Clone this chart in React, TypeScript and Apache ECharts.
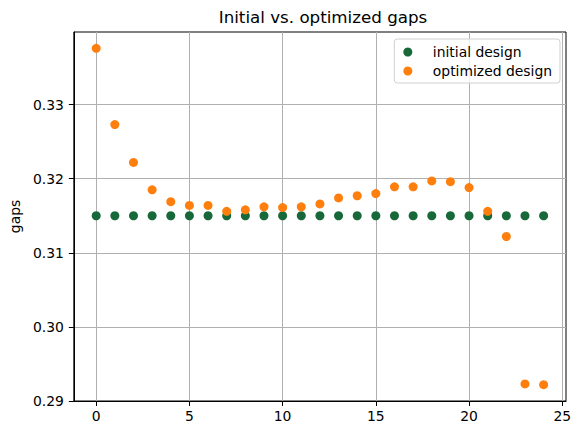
import React, { useEffect, useRef } from "react";
import * as echarts from "echarts";

// Segment index along the structure
const segmentIndex: number[] = Array.from({ length: 25 }, (_, i) => i);

// Gap widths before optimisation (uniform)
const initialGaps: number[] = [
  0.315, 0.315, 0.315, 0.315, 0.315, 0.315, 0.315, 0.315, 0.315, 0.315,
  0.315, 0.315, 0.315, 0.315, 0.315, 0.315, 0.315, 0.315, 0.315, 0.315,
  0.315, 0.315, 0.315, 0.315, 0.315,
];

// Gap widths after optimisation
const optimizedGaps: number[] = [
  0.3376, 0.3273, 0.3222, 0.3185, 0.3169, 0.3164, 0.3164, 0.3156, 0.3158, 0.3162,
  0.3161, 0.3162, 0.3166, 0.3174, 0.3177, 0.318, 0.3189, 0.3189, 0.3197, 0.3196,
  0.3188, 0.3156, 0.3122, 0.2923, 0.2922,
];

const xTicks: number[] = [0, 5, 10, 15, 20, 25];
const yTicks: number[] = [0.29, 0.3, 0.31, 0.32, 0.33];

const FONT = "DejaVu Sans";
const GREEN = "#18693a";
const ORANGE = "#ff7f0e";

export default function App() {
  const ref = useRef<HTMLDivElement>(null);

  useEffect(() => {
    if (!ref.current) return;
    const chart = echarts.init(ref.current, null, { renderer: "svg" });
    chart.setOption({
      animation: false,
      backgroundColor: "#ffffff",
      textStyle: { fontFamily: FONT },
      title: {
        text: "Initial vs. optimized gaps",
        left: 318,
        textAlign: "center",
        top: 3,
        textStyle: { fontFamily: FONT, fontSize: 16.7, fontWeight: "normal", color: "#000" },
      },
      grid: {
        left: 71,
        top: 32,
        right: 15,
        bottom: 34,
        show: true,
        borderColor: "#000",
        borderWidth: 1,
        backgroundColor: "transparent",
      },
      legend: {
        orient: "vertical",
        right: 21,
        top: 39,
        padding: [6, 8, 5, 9],
        itemGap: 5,
        itemWidth: 20,
        itemHeight: 9,
        borderColor: "#d0d0d0",
        borderWidth: 1,
        borderRadius: 3,
        backgroundColor: "rgba(255,255,255,0.8)",
        textStyle: { fontFamily: FONT, fontSize: 13.9, color: "#000", padding: [0, 0, 0, 10] },
        data: ["initial design", "optimized design"],
      },
      xAxis: {
        type: "value",
        min: -1.2,
        max: 25.2,
        axisLine: { show: true, onZero: false, lineStyle: { color: "#000", width: 1 } },
        axisTick: {
          show: true,
          length: 5,
          customValues: xTicks,
          lineStyle: { color: "#000", width: 1 },
        },
        axisLabel: {
          customValues: xTicks,
          margin: 8,
          fontFamily: FONT,
          fontSize: 13.9,
          color: "#000",
          formatter: (v: number) => String(v),
        },
        splitLine: { show: true, lineStyle: { color: "#b0b0b0", width: 1 } },
      },
      yAxis: {
        type: "value",
        min: 0.29,
        max: 0.3398,
        name: "gaps",
        nameLocation: "middle",
        nameGap: 47,
        nameTextStyle: { fontFamily: FONT, fontSize: 13.9, color: "#000" },
        axisLine: { show: true, onZero: false, lineStyle: { color: "#000", width: 1 } },
        axisTick: {
          show: true,
          length: 5,
          customValues: yTicks,
          lineStyle: { color: "#000", width: 1 },
        },
        axisLabel: {
          customValues: yTicks,
          margin: 10,
          fontFamily: FONT,
          fontSize: 13.9,
          color: "#000",
          formatter: (v: number) => v.toFixed(2),
        },
        splitLine: { show: true, lineStyle: { color: "#b0b0b0", width: 1 } },
      },
      series: [
        {
          name: "initial design",
          type: "scatter",
          symbol: "circle",
          symbolSize: 9,
          itemStyle: { color: GREEN, opacity: 1 },
          data: segmentIndex.map((x, i) => [x, initialGaps[i]]),
        },
        {
          name: "optimized design",
          type: "scatter",
          symbol: "circle",
          symbolSize: 9,
          itemStyle: { color: ORANGE, opacity: 1 },
          data: segmentIndex.map((x, i) => [x, optimizedGaps[i]]),
        },
      ],
    });
    return () => chart.dispose();
  }, []);

  return (
    <div
      ref={ref}
      style={{ position: "fixed", left: 0, top: 0, width: 581, height: 435 }}
    />
  );
}
